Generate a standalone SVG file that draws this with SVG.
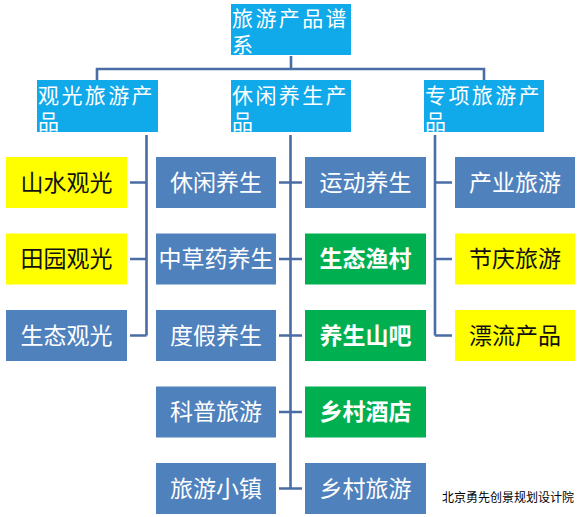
<svg xmlns="http://www.w3.org/2000/svg" width="582" height="517" viewBox="0 0 582 517">
<style>
  text { font-family: "Noto Sans CJK SC", "Noto Sans", sans-serif; }
  .head { fill: #10A9EA; }
  .blue { fill: #4F81BD; }
  .green { fill: #00B050; }
  .yellow { fill: #FFFF00; }
  .ht { fill: #FFFFFF; font-size: 21px; letter-spacing: 2.4px; }
  .wt { fill: #FFFFFF; font-size: 23px; text-anchor: middle; }
  .gt { fill: #FFFFFF; font-size: 23px; text-anchor: middle; font-weight: bold; }
  .yt { fill: #111111; font-size: 23px; text-anchor: middle; }
  .conn { fill: none; stroke: #4A6DA6; stroke-width: 2.6; stroke-linejoin: miter; }
  .note { fill: #000000; font-size: 12px; }
</style>
<rect width="582" height="517" fill="#FFFFFF"/>

<g id="connectors">
  <path class="conn" d="M291 56 V69 M97 80 V69 H484 V80"/>
  <path class="conn" d="M146.5 135 V335.5 M130 182.5 H146.5 M130 259 H146.5 M130 335.5 H146.5"/>
  <path class="conn" d="M290.5 135 V488.5 M279 182.5 H302 M279 259 H302 M279 335.5 H302 M279 412 H302 M279 488.5 H302"/>
  <path class="conn" d="M435 135 V335.5 M435 182.5 H452 M435 259 H452 M435 335.5 H452"/>
</g>

<g id="root">
  <rect class="head" x="231" y="4" width="120" height="51"/>
  <text class="ht" x="232" y="26">旅游产品谱</text>
  <text class="ht" x="232" y="52">系</text>
</g>

<g id="guanguang">
  <rect class="head" x="37" y="80" width="121" height="52"/>
  <text class="ht" x="38" y="103">观光旅游产</text>
  <text class="ht" x="38" y="129">品</text>
</g>
<g id="xiuxian">
  <rect class="head" x="231" y="80" width="120" height="52"/>
  <text class="ht" x="232" y="103">休闲养生产</text>
  <text class="ht" x="232" y="129">品</text>
</g>
<g id="zhuanxiang">
  <rect class="head" x="424" y="80" width="120" height="52"/>
  <text class="ht" x="425" y="103">专项旅游产</text>
  <text class="ht" x="425" y="129">品</text>
</g>

<g id="shanshui">
  <rect class="yellow" x="6" y="157" width="121" height="51"/>
  <text class="yt" x="66.5" y="190.5">山水观光</text>
</g>
<g id="tianyuan">
  <rect class="yellow" x="6" y="233.5" width="121" height="51"/>
  <text class="yt" x="66.5" y="267">田园观光</text>
</g>
<g id="shengtaiguanguang">
  <rect class="blue" x="6" y="310" width="121" height="51"/>
  <text class="wt" x="66.5" y="343.5">生态观光</text>
</g>

<g id="xiuxianyangsheng">
  <rect class="blue" x="156" y="157" width="120" height="51"/>
  <text class="wt" x="216" y="190.5">休闲养生</text>
</g>
<g id="zhongcaoyao">
  <rect class="blue" x="156" y="233.5" width="120" height="51"/>
  <text class="wt" x="216" y="267">中草药养生</text>
</g>
<g id="dujia">
  <rect class="blue" x="156" y="310" width="120" height="51"/>
  <text class="wt" x="216" y="343.5">度假养生</text>
</g>
<g id="kepu">
  <rect class="blue" x="156" y="386.5" width="120" height="51"/>
  <text class="wt" x="216" y="420">科普旅游</text>
</g>
<g id="xiaozhen">
  <rect class="blue" x="156" y="463" width="120" height="51"/>
  <text class="wt" x="216" y="496.5">旅游小镇</text>
</g>

<g id="yundong">
  <rect class="blue" x="305" y="157" width="121" height="51"/>
  <text class="wt" x="365.5" y="190.5">运动养生</text>
</g>
<g id="yucun">
  <rect class="green" x="305" y="233.5" width="121" height="51"/>
  <text class="gt" x="365.5" y="267">生态渔村</text>
</g>
<g id="shanba">
  <rect class="green" x="305" y="310" width="121" height="51"/>
  <text class="gt" x="365.5" y="343.5">养生山吧</text>
</g>
<g id="jiudian">
  <rect class="green" x="305" y="386.5" width="121" height="51"/>
  <text class="gt" x="365.5" y="420">乡村酒店</text>
</g>
<g id="xiangcun">
  <rect class="blue" x="305" y="463" width="121" height="51"/>
  <text class="wt" x="365.5" y="496.5">乡村旅游</text>
</g>

<g id="chanye">
  <rect class="blue" x="455" y="157" width="120" height="51"/>
  <text class="wt" x="515" y="190.5">产业旅游</text>
</g>
<g id="jieqing">
  <rect class="yellow" x="455" y="233.5" width="120" height="51"/>
  <text class="yt" x="515" y="267">节庆旅游</text>
</g>
<g id="piaoliu">
  <rect class="yellow" x="455" y="310" width="120" height="51"/>
  <text class="yt" x="515" y="343.5">漂流产品</text>
</g>

<text class="note" x="442" y="502">北京勇先创景规划设计院</text>
</svg>
